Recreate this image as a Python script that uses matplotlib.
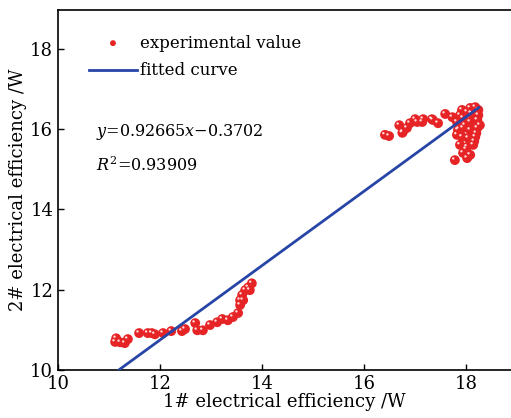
import matplotlib
matplotlib.use('Agg')
import matplotlib.pyplot as plt
import matplotlib.transforms as mtransforms
import numpy as np

plt.rcParams['font.family'] = ['DejaVu Serif']
plt.rcParams['mathtext.fontset'] = 'dejavuserif'

x_low = [11.14, 11.22, 11.31, 11.37, 11.12, 11.59, 11.76, 11.84, 11.90, 12.06,
         12.22, 12.43, 12.49, 12.69, 12.73, 12.84, 12.98, 13.12, 13.22, 13.33,
         13.43, 13.53, 13.57, 13.57, 13.61, 13.67, 13.73, 13.80, 13.76, 13.63]
y_low = [10.79, 10.69, 10.67, 10.77, 10.70, 10.92, 10.92, 10.92, 10.89, 10.92,
         10.97, 10.97, 11.02, 11.17, 10.99, 10.99, 11.12, 11.19, 11.27, 11.24,
         11.32, 11.42, 11.62, 11.74, 11.87, 11.99, 12.06, 12.16, 11.99, 11.74]
x_high = [16.41, 16.49, 16.69, 16.75, 16.84, 16.90, 17.00, 17.04, 17.14, 17.16,
          17.33, 17.45, 16.76, 17.35, 17.59, 17.73, 17.82, 17.92, 18.02, 18.08,
          18.18, 18.24, 17.94, 18.08, 18.22, 17.94, 18.08, 18.22, 17.92, 18.04,
          18.18, 17.88, 18.02, 18.14, 17.94, 18.08, 17.78, 18.02, 18.24, 18.27,
          17.84, 17.82, 18.12, 18.20, 17.98, 18.10, 17.88, 18.16, 18.00, 17.86]
y_high = [15.86, 15.83, 16.10, 15.91, 16.03, 16.15, 16.25, 16.18, 16.18, 16.25,
          16.25, 16.15, 15.93, 16.23, 16.38, 16.30, 16.18, 16.48, 16.43, 16.53,
          16.55, 16.48, 16.28, 16.18, 16.23, 16.03, 15.98, 16.03, 15.81, 15.78,
          15.81, 15.61, 15.56, 15.61, 15.41, 15.36, 15.23, 15.28, 16.35, 16.10,
          15.98, 15.86, 16.38, 15.90, 16.10, 16.40, 16.35, 15.70, 15.50, 16.00]
x_meas = x_low + x_high
y_meas = y_low + y_high

slope = 0.92665
intercept = -0.3702
x_fit = np.array([11.18, 18.25])
y_fit = slope * x_fit + intercept

fig = plt.figure(figsize=(5.11, 4.18), dpi=100)
ax = fig.add_axes([0.1135, 0.1148, 0.8865, 0.8612])

ax.scatter(x_meas, y_meas, s=50, c='#e62325', edgecolors='none', zorder=3,
           label='experimental value')
hl = mtransforms.offset_copy(ax.transData, fig=fig, x=-1.2, y=1.2, units='points')
ax.scatter(x_meas, y_meas, s=3, c='#ffd8d8', edgecolors='none', zorder=4,
           transform=hl)
ax.plot(x_fit, y_fit, color='#2745a6', lw=2, zorder=5, label='fitted curve')

ax.set_xlim(10, 18.88)
ax.set_ylim(10, 18.97)
ax.set_xticks([10, 12, 14, 16, 18])
ax.set_yticks([10, 12, 14, 16, 18])
ax.tick_params(direction='in', labelsize=13, length=4, width=1)
ax.spines['right'].set_visible(False)
for s in ['left', 'bottom', 'top']:
    ax.spines[s].set_linewidth(1.2)

ax.set_xlabel('1# electrical efficiency /W', fontsize=13, labelpad=0)
ax.set_ylabel('2# electrical efficiency /W', fontsize=13, labelpad=2)

ax.legend(loc='upper left', frameon=False, fontsize=12, markerscale=0.6,
          bbox_to_anchor=(0.068, 0.932), handlelength=2.9, borderaxespad=0,
          borderpad=0, handletextpad=0.2, labelspacing=0.65)

ax.text(10.745, 15.83, r'$y$=0.92665$x$$-$0.3702', fontsize=11.5)
ax.text(10.745, 14.97, r'$R^2$=0.93909', fontsize=11.5)

fig.savefig('out.png', dpi=100)
